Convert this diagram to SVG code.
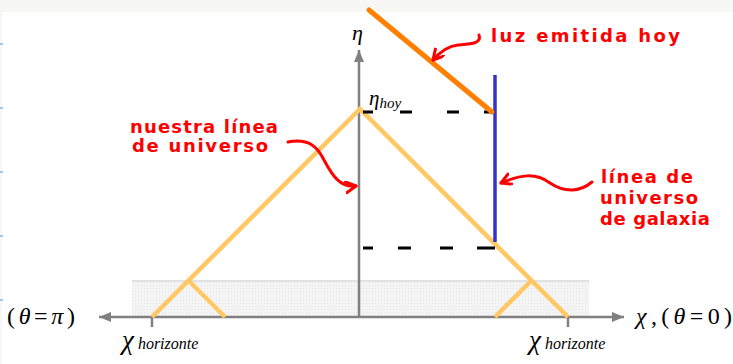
<svg xmlns="http://www.w3.org/2000/svg" width="733" height="364" viewBox="0 0 733 364">
<defs>
<style>
.axis{stroke:#808080;stroke-width:2.5;fill:none}
.light{stroke:#ffc864;stroke-width:4.5;fill:none;stroke-linecap:butt}
.dash{stroke:#000;stroke-width:3;fill:none}
.red{stroke:#f00;stroke-width:3;fill:none;stroke-linecap:round}
.hand{font-family:"DejaVu Sans",sans-serif;font-weight:bold;fill:#f00;font-size:18px}
.math{font-family:"Liberation Serif",serif;fill:#000}
</style>
<pattern id="dots" width="3" height="3" patternUnits="userSpaceOnUse">
<rect width="3" height="3" fill="#f4f4f4"/>
<rect width="1" height="1" fill="#e8e8e8"/>
</pattern>
<marker id="ah" markerUnits="userSpaceOnUse" markerWidth="14" markerHeight="14" refX="11" refY="6" orient="auto">
<path d="M1,0.5 L11,6 L1,11.5" fill="none" stroke="#f00" stroke-width="3" stroke-linecap="round" stroke-linejoin="round"/>
</marker>
<marker id="ga" markerUnits="userSpaceOnUse" markerWidth="14" markerHeight="12" refX="12" refY="6" orient="auto">
<path d="M0,1 L12,6 L0,11 Z" fill="#808080"/>
</marker>
</defs>
<rect x="0" y="0" width="733" height="364" fill="#fff"/>
<rect x="0" y="0" width="733" height="12" fill="#f7f7f5"/>
<rect x="0" y="0" width="2" height="364" fill="#f7f7f5"/>
<g id="edge-ticks" stroke="#4a90e2" stroke-width="1">
<line x1="0" y1="44" x2="3" y2="44"/>
<line x1="0" y1="108" x2="3" y2="108"/>
<line x1="0" y1="172" x2="3" y2="172"/>
<line x1="0" y1="236" x2="3" y2="236"/>
<line x1="0" y1="300" x2="3" y2="300"/>
</g>
<g id="shaded">
<rect x="132" y="281" width="457" height="36" fill="url(#dots)"/>
<line x1="132" y1="281" x2="589" y2="281" stroke="#e2e2e2" stroke-width="2"/>
</g>
<g id="axes">
<line class="axis" x1="359" y1="317" x2="359" y2="50" marker-end="url(#ga)"/>
<line class="axis" x1="359" y1="317" x2="99" y2="317" marker-end="url(#ga)"/>
<line class="axis" x1="359" y1="317" x2="624" y2="317" marker-end="url(#ga)"/>
<line class="axis" x1="152" y1="317" x2="152" y2="327"/>
<line class="axis" x1="568" y1="317" x2="568" y2="327"/>
</g>
<g id="light-cone">
<polyline class="light" points="152,317 360,109 568,317"/>
<line class="light" x1="189" y1="281" x2="225" y2="317"/>
<line class="light" x1="531" y1="281" x2="495" y2="317"/>
</g>
<g id="dashes">
<line class="dash" x1="363" y1="112" x2="495" y2="112" stroke-dasharray="10 27 12 35 12 25 10"/>
<line class="dash" x1="363" y1="248" x2="495" y2="248" stroke-dasharray="10 25 13 29 13 24 18"/>
</g>
<g id="galaxy-worldline">
<line x1="495" y1="75" x2="495" y2="242" stroke="#3333cc" stroke-width="3.5"/>
</g>
<g id="light-today">
<line x1="369" y1="10" x2="492" y2="112" stroke="#ff8000" stroke-width="5" stroke-linecap="round"/>
</g>
<g id="labels" class="math">
<text x="352" y="40" font-size="22" font-style="italic">η</text>
<text x="369" y="105" font-size="21" font-style="italic">η<tspan font-size="15" dy="3">hoy</tspan></text>
<text x="122" y="349" font-size="27" font-style="italic">χ<tspan font-size="16" dx="4">horizonte</tspan></text>
<text x="529" y="349" font-size="27" font-style="italic">χ<tspan font-size="16" dx="4">horizonte</tspan></text>
<text x="7" y="324" font-size="24" textLength="68" lengthAdjust="spacing">(<tspan font-style="italic">θ</tspan>=<tspan font-style="italic">π</tspan>)</text>
<text x="636" y="324" font-size="24" textLength="96" lengthAdjust="spacing"><tspan font-style="italic">χ</tspan>,(<tspan font-style="italic">θ</tspan>=0)</text>
</g>
<g id="annotations">
<text class="hand" x="491" y="42" textLength="189" lengthAdjust="spacing">luz emitida hoy</text>
<text class="hand" x="130" y="133" textLength="148" lengthAdjust="spacing">nuestra línea</text>
<text class="hand" x="132" y="152" textLength="136" lengthAdjust="spacing">de universo</text>
<text class="hand" x="601" y="183" textLength="92" lengthAdjust="spacing">línea de</text>
<text class="hand" x="600" y="204" textLength="98" lengthAdjust="spacing">universo</text>
<text class="hand" x="600" y="225" textLength="110" lengthAdjust="spacing">de galaxia</text>
</g>
<g id="connectors">
<path class="red" d="M479,35 C482,44 470,44 458,45 C448,46 440,52 433,60" marker-end="url(#ah)"/>
<path class="red" d="M288,142 C310,138 318,148 324,160 C332,175 340,188 356,186" marker-end="url(#ah)"/>
<path class="red" d="M592,182 C580,192 565,193 550,183 C535,172 520,175 501,183" marker-end="url(#ah)"/>
</g>
</svg>
